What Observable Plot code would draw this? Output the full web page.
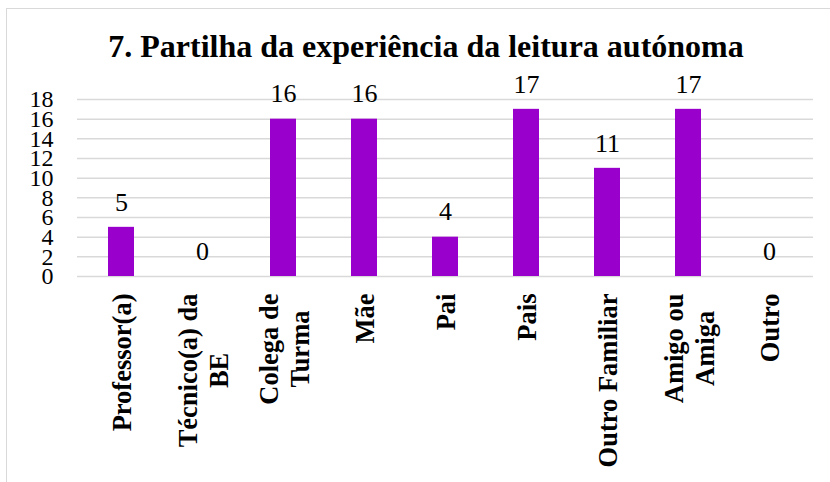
<!DOCTYPE html>
<html>
<head>
<meta charset="utf-8">
<script src="https://cdn.jsdelivr.net/npm/d3@7"></script>
<script src="https://cdn.jsdelivr.net/npm/@observablehq/plot@0.6"></script>
<style>
  html, body { margin: 0; padding: 0; background: #fff; overflow: hidden; width: 830px; height: 482px; }
  #frame { position: absolute; left: 6px; top: 8px; width: 900px; height: 600px; border: 1.5px solid #d9d9d9; box-sizing: border-box; }
  #title { position: absolute; left: 0; width: 852px; top: 26px; text-align: center; font-family: "Liberation Serif", "Times New Roman", serif; font-weight: bold; font-size: 32px; line-height: 40px; color: #000; white-space: nowrap; }
  #chart { position: absolute; left: 0; top: 70px; }
</style>
</head>
<body>
<div id="frame"></div>
<div id="title">7. Partilha da experiência da leitura autónoma</div>
<div id="chart"></div>
<script>
const categories = ["Professor(a)", "Técnico(a) da\nBE", "Colega de\nTurma", "Mãe", "Pai", "Pais", "Outro Familiar", "Amigo ou\nAmiga", "Outro"];
const values = [5, 0, 16, 16, 4, 17, 11, 17, 0];
const yTicks = [0, 2, 4, 6, 8, 10, 12, 14, 16, 18];

const data = categories.map((c, i) => ({cat: c, value: values[i]}));
const serif = '"Liberation Serif", "Times New Roman", serif';

const chart = Plot.plot({
  width: 830,
  height: 412,
  marginLeft: 77,
  marginRight: 17,
  marginTop: 29,
  marginBottom: 206,
  style: {fontFamily: serif, color: "#000", background: "transparent", overflow: "visible"},
  x: {domain: categories, paddingInner: 0.68, paddingOuter: 0.34, label: null},
  y: {domain: [0, 18], label: null},
  marks: [
    Plot.gridY(yTicks, {stroke: "#d9d9d9", strokeOpacity: 1, strokeWidth: 1.5}),
    Plot.barY(data, {x: "cat", y: "value", fill: "#9900cc"}),
    Plot.text(data, {x: "cat", y: "value", text: d => String(d.value), dy: -25, fontSize: 26, fill: "#000"}),
    Plot.axisY(yTicks, {tickSize: 0, tickPadding: 24, fontSize: 24, label: null}),
    Plot.axisX({tickRotate: -90, tickSize: 0, tickPadding: 17, fontSize: 26.5, fontWeight: "bold", lineHeight: 1.17, label: null})
  ]
});
document.getElementById("chart").appendChild(chart);

// centre the lines of each multi-line x label within its block (as in the reference)
chart.querySelectorAll('[aria-label="x-axis tick label"] text').forEach(t => {
  const spans = t.querySelectorAll("tspan");
  if (spans.length > 1) {
    let L = 0;
    spans.forEach(s => { L = Math.max(L, s.getComputedTextLength()); });
    t.setAttribute("text-anchor", "middle");
    spans.forEach(s => s.setAttribute("x", -L / 2));
  }
});
</script>
</body>
</html>
